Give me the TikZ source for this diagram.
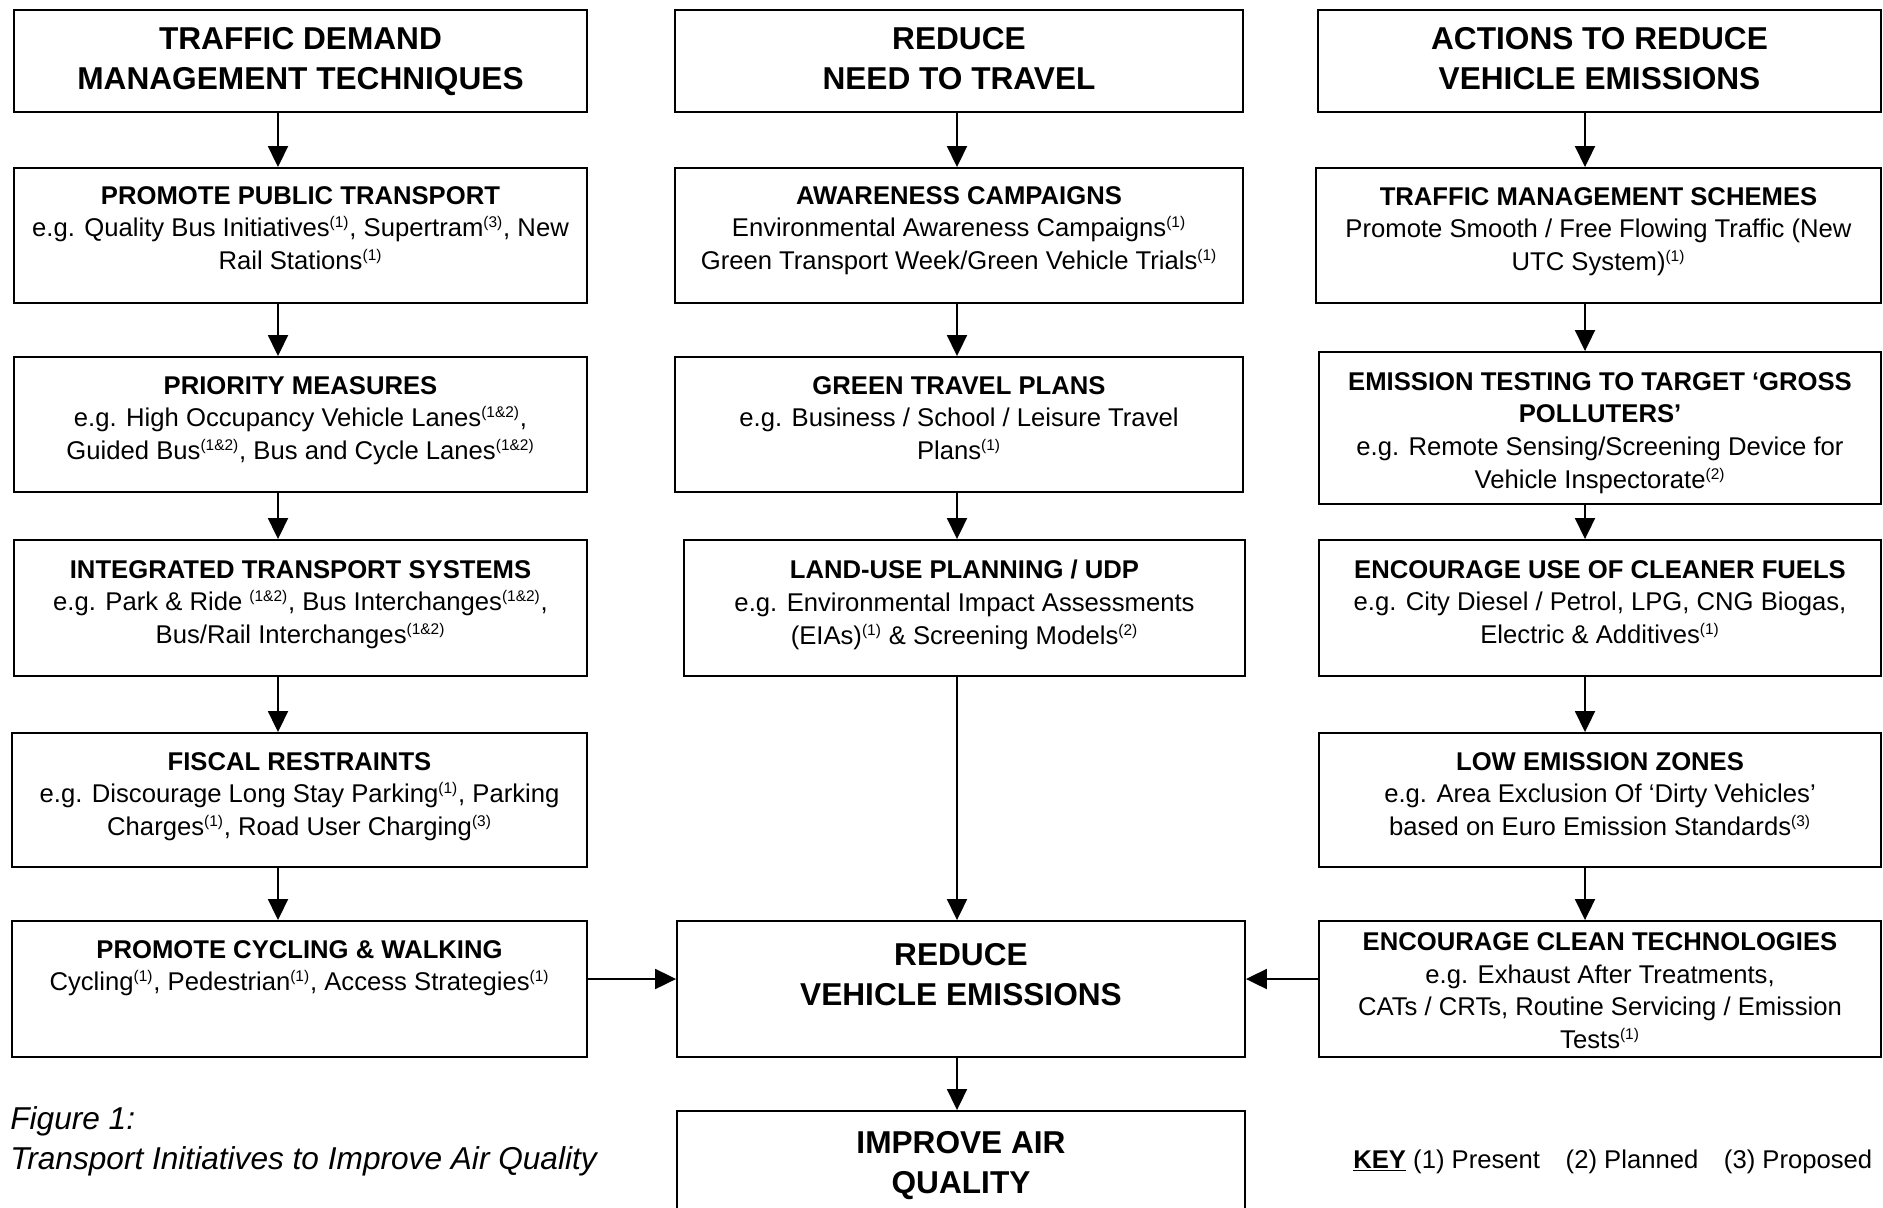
\documentclass[tikz,border=0pt]{standalone}
\usepackage{fontspec}
\setmainfont{Liberation Sans}
\usetikzlibrary{arrows.meta,positioning}
\newcommand{\kref}[1]{\textsuperscript{\fontsize{8.8}{8.8}\selectfont(#1)}}

\tikzset{
  actbox/.style={draw, line width=1.1pt, inner sep=0pt},
  ttl/.style={font=\fontsize{18}{22.8}\selectfont\bfseries, align=center, inner sep=0pt},
  txt/.style={font=\fontsize{14.6}{18.6}\selectfont, align=center, inner sep=0pt},
  flow/.style={line width=1.1pt, -{Triangle[width=0.4cm,length=0.42cm]}}
}

\begin{document}
\begin{tikzpicture}[x=0.02cm, y=-0.02cm]
\useasboundingbox (0,0) rectangle (1883,1207);
\clip (0,0) rectangle (1883,1207);

%arrow lines
\coordinate (lx) at (278,0);
\coordinate (mx) at (957,0);
\coordinate (rx) at (1585,0);
\coordinate (hy) at (0,979);

%left column
\node[actbox, minimum width=11.46cm, minimum height=2.04cm] (tdm) at (300.5,61) {};
\node[ttl, below=0.36cm of tdm.north] (tdmt) {TRAFFIC DEMAND\\MANAGEMENT TECHNIQUES};
\node[actbox, minimum width=11.46cm, minimum height=2.7cm] (ppt) at (300.5,235.5) {};
\node[txt, below=0.38cm of ppt.north] (pptt) {\textbf{PROMOTE PUBLIC TRANSPORT}\\e.g. Quality Bus Initiatives\kref{1}, Supertram\kref{3}, New\\Rail Stations\kref{1}};
\node[actbox, minimum width=11.46cm, minimum height=2.7cm] (prm) at (300.5,424.5) {};
\node[txt, below=0.4cm of prm.north] (prmt) {\textbf{PRIORITY MEASURES}\\e.g. High Occupancy Vehicle Lanes\kref{1\&2},\\Guided Bus\kref{1\&2}, Bus and Cycle Lanes\kref{1\&2}};
\node[actbox, minimum width=11.46cm, minimum height=2.72cm] (its) at (300.5,608) {};
\node[txt, below=0.42cm of its.north] (itst) {\textbf{INTEGRATED TRANSPORT SYSTEMS}\\e.g. Park \& Ride \kref{1\&2}, Bus Interchanges\kref{1\&2},\\Bus/Rail Interchanges\kref{1\&2}};
\node[actbox, minimum width=11.5cm, minimum height=2.68cm] (fsr) at (299.5,800) {};
\node[txt, below=0.4cm of fsr.north] (fsrt) {\textbf{FISCAL RESTRAINTS}\\e.g. Discourage Long Stay Parking\kref{1}, Parking\\Charges\kref{1}, Road User Charging\kref{3}};
\node[actbox, minimum width=11.5cm, minimum height=2.72cm] (pcw) at (299.5,989) {};
\node[txt, below=0.4cm of pcw.north] (pcwt) {\textbf{PROMOTE CYCLING \& WALKING}\\Cycling\kref{1}, Pedestrian\kref{1}, Access Strategies\kref{1}};

%middle column
\node[actbox, minimum width=11.36cm, minimum height=2.04cm] (rnt) at (959,61) {};
\node[ttl, below=0.36cm of rnt.north] (rntt) {REDUCE\\NEED TO TRAVEL};
\node[actbox, minimum width=11.36cm, minimum height=2.7cm] (awc) at (959,235.5) {};
\node[txt, below=0.38cm of awc.north] (awct) {\textbf{AWARENESS CAMPAIGNS}\\Environmental Awareness Campaigns\kref{1}\\Green Transport Week/Green Vehicle Trials\kref{1}};
\node[actbox, minimum width=11.36cm, minimum height=2.7cm] (gtp) at (959,424.5) {};
\node[txt, below=0.4cm of gtp.north] (gtpt) {\textbf{GREEN TRAVEL PLANS}\\e.g. Business / School / Leisure Travel\\Plans\kref{1}};
\node[actbox, minimum width=11.22cm, minimum height=2.72cm] (lup) at (964.5,608) {};
\node[txt, below=0.42cm of lup.north] (lupt) {\textbf{LAND-USE PLANNING / UDP}\\e.g. Environmental Impact Assessments\\(EIAs)\kref{1} \& Screening Models\kref{2}};
\node[actbox, minimum width=11.36cm, minimum height=2.72cm] (rve) at (961,989) {};
\node[ttl, below=0.46cm of rve.north] (rvet) {REDUCE\\VEHICLE EMISSIONS};
\node[actbox, minimum width=11.36cm, minimum height=2.6cm] (iaq) at (961,1176) {};
\node[ttl, below=0.42cm of iaq.north] (iaqt) {IMPROVE AIR\\QUALITY};

%right column
\node[actbox, minimum width=11.26cm, minimum height=2.04cm] (arv) at (1599.5,61) {};
\node[ttl, below=0.36cm of arv.north] (arvt) {ACTIONS TO REDUCE\\VEHICLE EMISSIONS};
\node[actbox, minimum width=11.3cm, minimum height=2.7cm] (tms) at (1598.5,235.5) {};
\node[txt, below=0.4cm of tms.north] (tmst) {\textbf{TRAFFIC MANAGEMENT SCHEMES}\\Promote Smooth / Free Flowing Traffic (New\\UTC System)\kref{1}};
\node[actbox, minimum width=11.24cm, minimum height=3.04cm] (etg) at (1600,428) {};
\node[txt, below=0.42cm of etg.north] (etgt) {\textbf{EMISSION TESTING TO TARGET ‘GROSS}\\\textbf{POLLUTERS’}\\e.g. Remote Sensing/Screening Device for\\Vehicle Inspectorate\kref{2}};
\node[actbox, minimum width=11.24cm, minimum height=2.72cm] (ecf) at (1600,608) {};
\node[txt, below=0.42cm of ecf.north] (ecft) {\textbf{ENCOURAGE USE OF CLEANER FUELS}\\e.g. City Diesel / Petrol, LPG, CNG Biogas,\\Electric \& Additives\kref{1}};
\node[actbox, minimum width=11.24cm, minimum height=2.68cm] (lez) at (1600,800) {};
\node[txt, below=0.4cm of lez.north] (lezt) {\textbf{LOW EMISSION ZONES}\\e.g. Area Exclusion Of ‘Dirty Vehicles’\\based on Euro Emission Standards\kref{3}};
\node[actbox, minimum width=11.24cm, minimum height=2.72cm] (ect) at (1600,989) {};
\node[txt, below=0.24cm of ect.north] (ectt) {\textbf{ENCOURAGE CLEAN TECHNOLOGIES}\\e.g. Exhaust After Treatments,\\CATs / CRTs, Routine Servicing / Emission\\Tests\kref{1}};

%arrows
\draw[flow] (tdm.south -| lx) -- (ppt.north -| lx);
\draw[flow] (ppt.south -| lx) -- (prm.north -| lx);
\draw[flow] (prm.south -| lx) -- (its.north -| lx);
\draw[flow] (its.south -| lx) -- (fsr.north -| lx);
\draw[flow] (fsr.south -| lx) -- (pcw.north -| lx);
\draw[flow] (rnt.south -| mx) -- (awc.north -| mx);
\draw[flow] (awc.south -| mx) -- (gtp.north -| mx);
\draw[flow] (gtp.south -| mx) -- (lup.north -| mx);
\draw[flow] (lup.south -| mx) -- (rve.north -| mx);
\draw[flow] (rve.south -| mx) -- (iaq.north -| mx);
\draw[flow] (arv.south -| rx) -- (tms.north -| rx);
\draw[flow] (tms.south -| rx) -- (etg.north -| rx);
\draw[flow] (etg.south -| rx) -- (ecf.north -| rx);
\draw[flow] (ecf.south -| rx) -- (lez.north -| rx);
\draw[flow] (lez.south -| rx) -- (ect.north -| rx);
\draw[flow] (pcw.east |- hy) -- (rve.west |- hy);
\draw[flow] (ect.west |- hy) -- (rve.east |- hy);

%caption and key
\node[font=\fontsize{18}{22.8}\selectfont\itshape, align=left, anchor=north west, inner sep=0pt] (cap) at (10,1106) {Figure 1:\\Transport Initiatives to Improve Air Quality};
\node[txt, anchor=base west] (key) at (1353,1168) {\textbf{\underline{KEY}} (1) Present\quad(2) Planned\quad(3) Proposed};
\end{tikzpicture}
\end{document}
